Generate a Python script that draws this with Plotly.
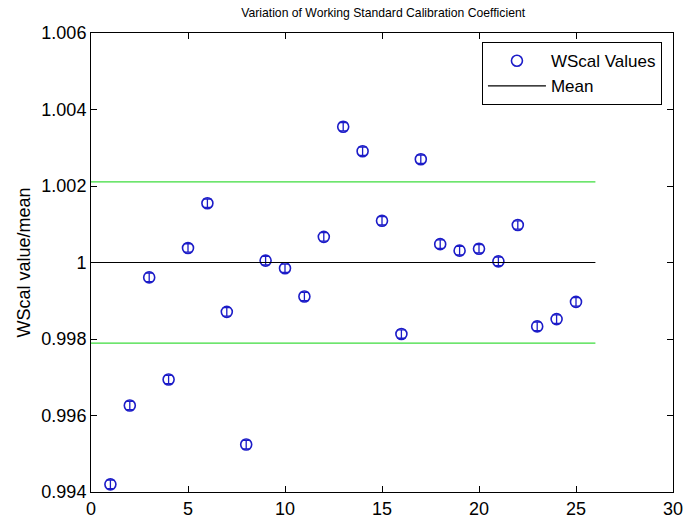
import plotly.graph_objects as go

# Working-standard calibration coefficients, normalised by their mean
run_index = list(range(1, 26))
wscal_ratio = [
    0.99420, 0.99626, 0.99961, 0.99694, 1.00038,
    1.00155, 0.99871, 0.99524, 1.00005, 0.99985,
    0.99911, 1.00067, 1.00355, 1.00291, 1.00109,
    0.99813, 1.00270, 1.00048, 1.00031, 1.00036,
    1.00003, 1.00098, 0.99833, 0.99852, 0.99897,
]
wscal_err = [0.00011] * 25

mean_value = 1.0
band_half_width = 0.00211
line_x = [0, 26]

x_ticks = [0, 5, 10, 15, 20, 25, 30]
y_ticks = [0.994, 0.996, 0.998, 1.0, 1.002, 1.004, 1.006]
y_tick_text = ["0.994", "0.996", "0.998", "1", "1.002", "1.004", "1.006"]

BLUE = "#1c1cc8"
GREEN = "#3cdc3c"
FONT = "Liberation Sans, Arial, sans-serif"

fig = go.Figure()

fig.add_trace(go.Scatter(
    x=run_index, y=wscal_ratio, mode="markers", name="WScal Values",
    marker=dict(symbol="circle-open", size=11, color=BLUE, line=dict(width=1.6, color=BLUE)),
    error_y=dict(type="data", array=wscal_err, visible=True, color=BLUE, thickness=1.3, width=4),
))
fig.add_trace(go.Scatter(
    x=line_x, y=[mean_value] * 2, mode="lines", name="Mean",
    line=dict(color="black", width=1.2),
))
fig.add_trace(go.Scatter(
    x=line_x, y=[mean_value + band_half_width] * 2, mode="lines", showlegend=False,
    line=dict(color=GREEN, width=1.2),
))
fig.add_trace(go.Scatter(
    x=line_x, y=[mean_value - band_half_width] * 2, mode="lines", showlegend=False,
    line=dict(color=GREEN, width=1.2),
))

axis_common = dict(
    showgrid=False, zeroline=False, showline=True, linecolor="black", linewidth=1,
    mirror="ticks", ticks="inside", ticklen=6, tickcolor="black", automargin=False,
    ticklabeloverflow="allow",
    tickfont=dict(family=FONT, size=18, color="black"),
)

fig.update_layout(
    width=683, height=523,
    margin=dict(l=91, r=10, t=33, b=31),
    paper_bgcolor="white", plot_bgcolor="white",
    title=dict(text="Variation of Working Standard Calibration Coefficient",
               x=0.561, xanchor="center", y=0.975, yanchor="middle",
               font=dict(family=FONT, size=12.2, color="black")),
    xaxis=dict(range=[0, 30], tickvals=x_ticks, **axis_common),
    yaxis=dict(range=[0.994, 1.006], tickvals=y_ticks, ticktext=y_tick_text,
               title=dict(text="WScal value/mean", standoff=6,
                          font=dict(family=FONT, size=18, color="black")),
               **axis_common),
    legend=dict(x=0.981, xanchor="right", y=0.98, yanchor="top",
                bordercolor="black", borderwidth=1, bgcolor="white",
                font=dict(family=FONT, size=17, color="black"),
                tracegroupgap=0, itemwidth=58),
    showlegend=True,
)

fig.write_html("out.html")
